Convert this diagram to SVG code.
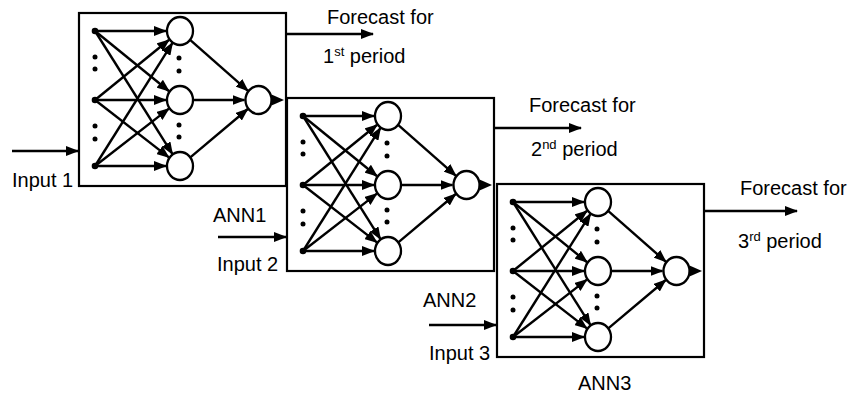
<svg xmlns="http://www.w3.org/2000/svg" width="853" height="399" viewBox="0 0 853 399">
<style>
  .box { fill: #fff; stroke: #000; stroke-width: 2.2; }
  .arr { stroke: #000; stroke-width: 2.4; fill: none; marker-end: url(#ah); }
  .nd { fill: #fff; stroke: #000; stroke-width: 2.3; }
  .dot { fill: #000; }
  text { font-family: "Liberation Sans", Arial, sans-serif; font-size: 20px; fill: #000; }
  .sup { font-size: 13px; }
</style>
<defs>
  <marker id="ah" markerUnits="userSpaceOnUse" markerWidth="13" markerHeight="10" refX="12" refY="5" orient="auto">
    <path d="M0,0 L13,5 L0,10 z" fill="#000"/>
  </marker>
  <g id="net">
    <!-- input to hidden -->
    <line class="arr" x1="16" y1="18" x2="87" y2="18"/>
    <line class="arr" x1="16" y1="18" x2="90.1" y2="78.2"/>
    <line class="arr" x1="16" y1="18" x2="93.5" y2="141.2"/>
    <line class="arr" x1="16" y1="87" x2="90.1" y2="26.8"/>
    <line class="arr" x1="16" y1="87" x2="87" y2="87"/>
    <line class="arr" x1="16" y1="87" x2="89.9" y2="144.4"/>
    <line class="arr" x1="16" y1="153" x2="93.5" y2="29.9"/>
    <line class="arr" x1="16" y1="153" x2="89.9" y2="95.6"/>
    <line class="arr" x1="16" y1="153" x2="87" y2="153"/>
    <!-- hidden to output -->
    <line class="arr" x1="111.1" y1="26.9" x2="169" y2="77.8"/>
    <line class="arr" x1="114.5" y1="87" x2="165.5" y2="87"/>
    <line class="arr" x1="111.3" y1="144.3" x2="168.8" y2="96"/>
    <!-- input nodes -->
    <circle class="dot" cx="16" cy="18" r="3.3"/>
    <circle class="dot" cx="16" cy="87" r="3.3"/>
    <circle class="dot" cx="16" cy="153" r="3.3"/>
    <circle class="dot" cx="16" cy="44" r="2.5"/>
    <circle class="dot" cx="16" cy="56" r="2.5"/>
    <circle class="dot" cx="16" cy="113" r="2.5"/>
    <circle class="dot" cx="16" cy="126" r="2.5"/>
    <!-- hidden nodes -->
    <ellipse class="nd" cx="101" cy="18" rx="13" ry="14"/>
    <ellipse class="nd" cx="101" cy="87" rx="13" ry="14"/>
    <ellipse class="nd" cx="101" cy="153" rx="13" ry="14"/>
    <circle class="dot" cx="100" cy="45" r="2.5"/>
    <circle class="dot" cx="100" cy="58" r="2.5"/>
    <circle class="dot" cx="100" cy="112" r="2.5"/>
    <circle class="dot" cx="100" cy="124" r="2.5"/>
    <!-- output node -->
    <ellipse class="nd" cx="179.5" cy="87" rx="13" ry="14"/>
    <path d="M192.5,81.5 L205,87 L192.5,92.5 z" fill="#000"/>
  </g>
</defs>

<g id="ann1">
  <rect class="box" x="79" y="13" width="207" height="173"/>
  <use href="#net" transform="translate(79,13)"/>
  <text x="213" y="222">ANN1</text>
</g>
<g id="ann2">
  <rect class="box" x="287" y="98" width="207" height="173"/>
  <use href="#net" transform="translate(287,98)"/>
  <text x="423" y="307">ANN2</text>
</g>
<g id="ann3">
  <rect class="box" x="497" y="184" width="207" height="173"/>
  <use href="#net" transform="translate(497,184)"/>
  <text x="578" y="390">ANN3</text>
</g>

<g id="connectors">
  <line class="arr" x1="12" y1="151" x2="78" y2="151"/>
  <line class="arr" x1="218" y1="237" x2="286" y2="237"/>
  <line class="arr" x1="429" y1="325" x2="496" y2="325"/>
  <line class="arr" x1="286" y1="34" x2="373" y2="34"/>
  <line class="arr" x1="494" y1="128" x2="581" y2="128"/>
  <line class="arr" x1="704" y1="211" x2="797" y2="211"/>
</g>

<g id="labels">
  <text x="12" y="187">Input 1</text>
  <text x="217" y="271">Input 2</text>
  <text x="429" y="360">Input 3</text>
  <text x="327" y="24">Forecast for</text>
  <text x="323" y="63">1<tspan class="sup" dy="-7">st</tspan><tspan dy="7"> period</tspan></text>
  <text x="529" y="112">Forecast for</text>
  <text x="531" y="156">2<tspan class="sup" dy="-7">nd</tspan><tspan dy="7"> period</tspan></text>
  <text x="740" y="195">Forecast for</text>
  <text x="738" y="248">3<tspan class="sup" dy="-7">rd</tspan><tspan dy="7"> period</tspan></text>
</g>
</svg>
